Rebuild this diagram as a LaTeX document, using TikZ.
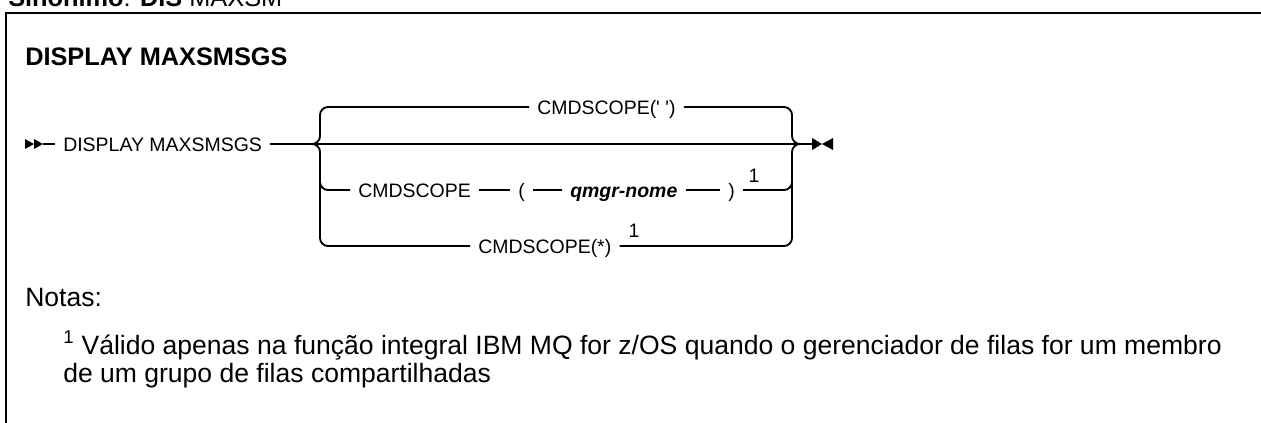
\documentclass[tikz,border=0pt]{standalone}
\usepackage{fontspec}
\setmainfont{Liberation Sans}
\usetikzlibrary{calc}

\begin{document}
\begin{tikzpicture}[
  x=0.75pt, y=-0.75pt,
  rail/.style={line width=1.4pt, rounded corners=6pt},
  word/.style={anchor=west, inner xsep=6pt, inner ysep=0pt, text height=10.5pt, text depth=0pt, font=\fontsize{14.6}{17}\selectfont},
  fnote/.style={inner sep=0pt, text height=10.5pt, text depth=0pt, font=\fontsize{14.6}{17}\selectfont},
  note/.style={anchor=base west, inner sep=0pt, font=\fontsize{19.9}{24}\selectfont}
]
  \useasboundingbox (0,0) rectangle (1261,422);
  \clip (0,0) rectangle (1261,422);
  \node[note, font=\fontsize{19}{23}\selectfont] (syn) at (8,6) {\textbf{Sinônimo}: \textbf{DIS} MAXSM};
  \draw[line width=1.6pt] (1270,13) -- (6,13) -- (6,430);
  \node[note, font=\fontsize{19}{23}\selectfont\bfseries] (title) at (25,65) {DISPLAY MAXSMSGS};

  \coordinate (begin) at (43,144);
  \coordinate (lin) at (310,144);
  \coordinate (lj) at (320,144);
  \coordinate (rj) at (792,144);
  \coordinate (rout) at (812,144);

  \node[word] (disp) at (55,144) {DISPLAY MAXSMSGS};
  \node[word] (dflt) at (529,107) {CMDSCOPE(\textquotesingle\ \textquotesingle)};
  \node[word] (cmd) at (350,190) {CMDSCOPE};
  \node[word] (lpar) at (510,190) {(};
  \node[word] (qmgr) at (562,190) {\textbf{\textit{qmgr-nome}}};
  \node[word] (rpar) at (720,190) {)};
  \node[fnote] (fn1) at (754,175) {1};
  \node[word] (star) at (470,246) {CMDSCOPE(*)};
  \node[fnote] (fn2) at (634,230) {1};

  \fill (25,139) -- (34,144) -- (25,149) -- cycle;
  \fill (34,139) -- (43,144) -- (34,149) -- cycle;
  \draw[rail] (begin) -- (disp.west);
  \draw[rail] (disp.east) -- (rout);

  \draw[rail] (lin) -| (lj |- dflt.west) -- (dflt.west);
  \draw[rail] (lin) -| (lj |- star.west) -- (star.west);
  \draw[rail] ($(lj)+(0,20)$) |- (cmd.west);
  \draw[rail] (cmd.east) -- (lpar.west);
  \draw[rail] (lpar.east) -- (qmgr.west);
  \draw[rail] (qmgr.east) -- (rpar.west);

  \draw[rail] (dflt.east) -| (rj) -- (rout);
  \draw[rail] (star.east) -| (rj) -- (rout);
  \draw[rail] (rpar.east) -| ($(rj)+(0,20)$);

  \fill (812,138) -- (822,144) -- (812,150) -- cycle;
  \fill (833,138) -- (822,144) -- (833,150) -- cycle;

  \node[note] (notas) at (25,306) {Notas:};
  \node[note] (nl1) at (63,354) {\textsuperscript{1} Válido apenas na função integral IBM MQ for z/OS quando o gerenciador de filas for um membro};
  \node[note] (nl2) at (63,382) {de um grupo de filas compartilhadas};
\end{tikzpicture}
\end{document}
